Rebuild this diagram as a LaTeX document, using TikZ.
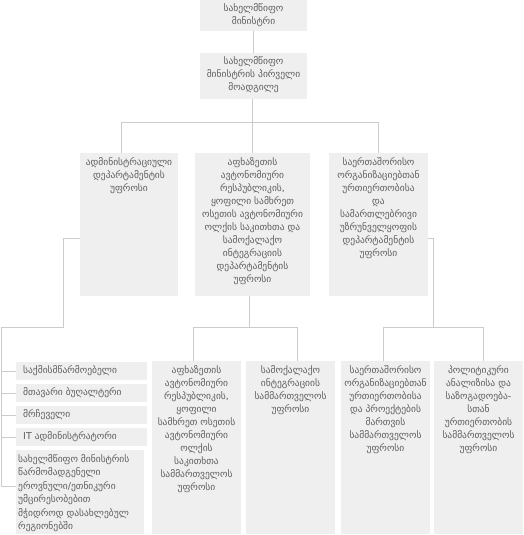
\documentclass[tikz,border=0pt]{standalone}
\usepackage{fontspec}
\setmainfont{DejaVu Sans}
\definecolor{boxgray}{HTML}{EFEFEF}
\definecolor{txtgray}{HTML}{5E5E5E}
\definecolor{linegray}{HTML}{CCCCCC}
\newcommand{\mkbox}[5]{\node[orgbox, minimum width={#4-#2}, minimum height={#5-#3}] (#1) at ({(#2+#4)/2},{(#3+#5)/2}) {};}
\begin{document}
\begin{tikzpicture}[x=1pt,y=-1pt,
  orgbox/.style={fill=boxgray, draw=none, inner sep=0pt, outer sep=0pt},
  txt/.style={text=txtgray, font=\fontsize{9.5}{13}\selectfont, align=center, inner sep=0pt},
  ltxt/.style={text=txtgray, font=\fontsize{9.5}{13.5}\selectfont, align=left, inner sep=0pt},
  conn/.style={draw=linegray, line width=0.9pt}]
\useasboundingbox (0,0) rectangle (523,535);
% boxes
\mkbox{top}{200}{0}{307}{31}
\mkbox{sec}{200}{53}{307}{99}
\mkbox{b1}{80}{153}{178}{296}
\mkbox{b2}{195}{153}{310}{296}
\mkbox{b3}{329}{153}{428}{296}
\mkbox{lb1}{16}{362}{147}{380}
\mkbox{lb2}{16}{384}{147}{402}
\mkbox{lb3}{16}{406}{147}{424}
\mkbox{lb4}{16}{428}{147}{446}
\mkbox{lb5}{16}{450}{144}{534}
\mkbox{m1}{152}{361}{241}{534}
\mkbox{m2}{246}{361}{335}{534}
\mkbox{r1}{341}{361}{430}{534}
\mkbox{r2}{434}{361}{523}{534}
% texts
\node[txt, anchor=north] (topt) at ([yshift=-3pt]top.north) {სახელმწიფო\\მინისტრი};
\node[txt, anchor=north] (sect) at ([yshift=-3pt]sec.north) {სახელმწიფო\\მინისტრის პირველი\\მოადგილე};
\node[txt, anchor=north] (b1t) at ([yshift=-4pt]b1.north) {ადმინისტრაციული\\დეპარტამენტის\\უფროსი};
\node[txt, anchor=north] (b2t) at ([yshift=-4pt]b2.north) {აფხაზეთის\\ავტონომიური\\რესპუბლიკის,\\ყოფილი სამხრეთ\\ოსეთის ავტონომიური\\ოლქის საკითხთა და\\სამოქალაქო\\ინტეგრაციის\\დეპარტამენტის\\უფროსი};
\node[txt, anchor=north] (b3t) at ([yshift=-4pt]b3.north) {საერთაშორისო\\ორგანიზაციებთან\\ურთიერთობისა\\და\\სამართლებრივი\\უზრუნველყოფის\\დეპარტამენტის\\უფროსი};
\node[ltxt, anchor=west] (lb1t) at ([xshift=7pt]lb1.west) {საქმისმწარმოებელი};
\node[ltxt, anchor=west] (lb2t) at ([xshift=7pt]lb2.west) {მთავარი ბუღალტერი};
\node[ltxt, anchor=west] (lb3t) at ([xshift=7pt]lb3.west) {მრჩეველი};
\node[ltxt, anchor=west] (lb4t) at ([xshift=7pt]lb4.west) {IT ადმინისტრატორი};
\node[ltxt, anchor=north west] (lb5t) at ([xshift=2pt,yshift=-4pt]lb5.north west) {სახელმწიფო მინისტრის\\წარმომადგენელი\\ეროვნული/ეთნიკური\\უმცირესობებით\\მჭიდროდ დასახლებულ\\რეგიონებში};
\node[txt, anchor=north] (m1t) at ([yshift=-4pt]m1.north) {აფხაზეთის\\ავტონომიური\\რესპუბლიკის,\\ყოფილი\\სამხრეთ ოსეთის\\ავტონომიური\\ოლქის\\საკითხთა\\სამმართველოს\\უფროსი};
\node[txt, anchor=north] (m2t) at ([yshift=-4pt]m2.north) {სამოქალაქო\\ინტეგრაციის\\სამმართველოს\\უფროსი};
\node[txt, anchor=north] (r1t) at ([yshift=-4pt]r1.north) {საერთაშორისო\\ორგანიზაციებთან\\ურთიერთობისა\\და პროექტების\\მართვის\\სამმართველოს\\უფროსი};
\node[txt, anchor=north] (r2t) at ([yshift=-4pt]r2.north) {პოლიტიკური\\ანალიზისა და\\საზოგადოება-\\სთან\\ურთიერთობის\\სამმართველოს\\უფროსი};
% junction coordinates
\coordinate (T) at (252,122);
\coordinate (Ta) at (121,122);
\coordinate (Tc) at (378,122);
\coordinate (L1) at (63,238);
\coordinate (L2) at (1,327);
\coordinate (L3) at (1,486);
\coordinate (M) at (249,327);
\coordinate (Ma) at (193,327);
\coordinate (Mb) at (297,327);
\coordinate (R) at (433,238);
\coordinate (Ra) at (383,327);
\coordinate (Rb) at (483,327);
% connectors
\draw[conn] (top.south) -- (sec.north);
\draw[conn] (sec.south -| T) -- (T);
\draw[conn] (Ta) -- (Tc);
\draw[conn] (Ta) -- (Ta |- b1.north);
\draw[conn] (T) -- (T |- b2.north);
\draw[conn] (Tc) -- (Tc |- b3.north);
\draw[conn] (b1.west |- L1) -- (L1) |- (L2) -- (L3) -- (L3 -| lb5.west);
\draw[conn] (L2 |- lb1.west) -- (lb1.west);
\draw[conn] (L2 |- lb2.west) -- (lb2.west);
\draw[conn] (L2 |- lb3.west) -- (lb3.west);
\draw[conn] (L2 |- lb4.west) -- (lb4.west);
\draw[conn] (M |- b2.south) -- (M);
\draw[conn] (Ma) -- (Mb);
\draw[conn] (Ma) -- (Ma |- m1.north);
\draw[conn] (Mb) -- (Mb |- m2.north);
\draw[conn] (b3.east |- R) -- (R) -- (R |- Ra);
\draw[conn] (Ra) -- (Rb);
\draw[conn] (Ra) -- (Ra |- r1.north);
\draw[conn] (Rb) -- (Rb |- r2.north);
\end{tikzpicture}
\end{document}
